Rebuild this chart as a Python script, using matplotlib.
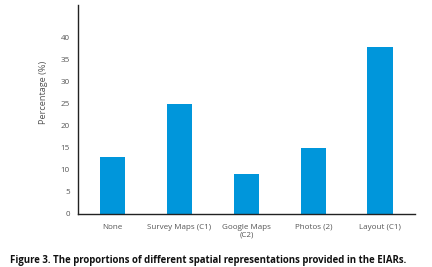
import matplotlib
matplotlib.use("Agg")
import matplotlib.pyplot as plt

categories = ["None", "Survey Maps (C1)", "Google Maps\n(C2)", "Photos (2)", "Layout (C1)"]
values = [13, 25, 9, 15, 38]
yticks = [0, 5, 10, 15, 20, 25, 30, 35, 40]

plt.rcParams['font.family'] = ['Open Sans', 'DejaVu Sans']

fig = plt.figure(figsize=(4.32, 2.67), dpi=100)
ax = fig.add_axes([78/432, 1 - 214/267, (415-78)/432, (214-5)/267])
x = range(len(categories))
ax.bar(x, values, width=0.38, color="#0096DB")
ax.set_xlim(-0.515, 4.52)
ax.set_ylim(0, 47.5)
ax.set_yticks(yticks)
ax.set_xticks(list(x))
ax.set_xticklabels(categories, fontsize=5.8, color="#555555", linespacing=1.2)
ax.tick_params(axis='y', labelsize=5.8, labelcolor="#555555", length=0, pad=6)
ax.tick_params(axis='x', length=0, pad=7)
for s in ["top", "right"]:
    ax.spines[s].set_visible(False)
for s in ["left", "bottom"]:
    ax.spines[s].set_color("#222222")
    ax.spines[s].set_linewidth(1.0)
ax.set_ylabel("Percentage (%)", fontsize=6.6, color="#555555")
ax.yaxis.set_label_coords(-30/337, 0.58)
fig.text(10/432, 1 - 260/267, "Figure 3. The proportions of different spatial representations provided in the EIARs.",
         fontsize=6.9, fontweight="bold", color="#111111", va="center", ha="left")
fig.savefig("out.png", dpi=100)
